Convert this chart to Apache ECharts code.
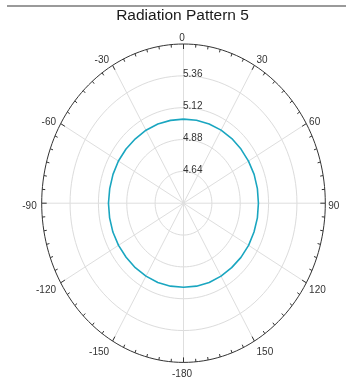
<!DOCTYPE html>
<html><head><meta charset="utf-8">
<script src="https://cdn.jsdelivr.net/npm/echarts@6/dist/echarts.min.js"></script>
<style>html,body{margin:0;padding:0;background:#fff}#c{width:346px;height:377px}</style>
</head><body><div id="c"></div>
<script>
const TITLE = 'Radiation Pattern 5';
const RADIUS_MIN = 4.4;
const RADIUS_MAX = 5.6;
const radiusTicks = [4.64, 4.88, 5.12, 5.36];
const radiusTickLabels = ['4.64', '4.88', '5.12', '5.36'];
const angleTicks = [0, 30, 60, 90, 120, 150, 180, 210, 240, 270, 300, 330];
const angleTickLabels = ['0', '30', '60', '90', '120', '150', '-180', '-150', '-120', '-90', '-60', '-30'];
const patternAngles = [0, 10, 20, 30, 40, 50, 60, 70, 80, 90, 100, 110, 120, 130, 140, 150, 160, 170,
  180, 190, 200, 210, 220, 230, 240, 250, 260, 270, 280, 290, 300, 310, 320, 330, 340, 350];
const patternValues = [5.034, 5.035, 5.035, 5.036, 5.036, 5.035, 5.035, 5.036, 5.035, 5.034, 5.035, 5.035,
  5.036, 5.035, 5.034, 5.035, 5.036, 5.035, 5.034, 5.035, 5.036, 5.035, 5.035, 5.034,
  5.035, 5.036, 5.035, 5.035, 5.034, 5.035, 5.036, 5.035, 5.034, 5.035, 5.035, 5.034];

const FONT = '"Liberation Sans", Arial, sans-serif';
const MINOR_STEP = 5;
const rad = d => d * Math.PI / 180;
function toXY(angleDeg, value) {
  const r = value - RADIUS_MIN;
  return [r * Math.sin(rad(angleDeg)), r * Math.cos(rad(angleDeg))];
}
const curve = patternAngles.map((a, i) => toXY(a, patternValues[i]));
curve.push(curve[0]);

function renderFrame(params, api) {
  const children = [];
  const c = api.coord([0, 0]);
  const P = (a, v) => api.coord(toXY(a, v));
  radiusTicks.forEach(v => {
    const pts = [];
    for (let a = 0; a <= 360; a += 3) pts.push(P(a, v));
    children.push({ type: 'polyline', shape: { points: pts }, style: { stroke: '#dcdcdc', lineWidth: 1, fill: null } });
  });
  angleTicks.forEach(a => {
    const o = P(a, RADIUS_MAX);
    children.push({ type: 'line', shape: { x1: c[0], y1: c[1], x2: o[0], y2: o[1] }, style: { stroke: '#dedede', lineWidth: 1 } });
  });
  const outer = [];
  for (let a = 0; a <= 360; a += 2) outer.push(P(a, RADIUS_MAX));
  children.push({ type: 'polyline', shape: { points: outer }, style: { stroke: '#333', lineWidth: 1, fill: null } });
  for (let a = 0; a < 360; a += MINOR_STEP) {
    const o = P(a, RADIUS_MAX);
    const dx = c[0] - o[0], dy = c[1] - o[1], L = Math.hypot(dx, dy);
    const len = a % 30 === 0 ? 5 : 3;
    children.push({ type: 'line', shape: { x1: o[0], y1: o[1], x2: o[0] + dx / L * len, y2: o[1] + dy / L * len }, style: { stroke: '#333', lineWidth: 1 } });
  }
  angleTicks.forEach((a, i) => {
    const o = P(a, RADIUS_MAX);
    const s = Math.sin(rad(a)), co = Math.cos(rad(a));
    let align = 'center', x = o[0];
    if (s > 0.01) { align = 'left'; x = o[0] + 3 * Math.sqrt(s); }
    else if (s < -0.01) { align = 'right'; x = o[0] - 5 * Math.sqrt(-s); }
    else { x = o[0] - 1.5; }
    const y = o[1] - 6 * co + 3 * (1 - co);
    children.push({ type: 'text', x: x, y: y, style: { text: angleTickLabels[i], fill: '#333', fontSize: 10, fontFamily: FONT, align: align, verticalAlign: 'middle' } });
  });
  radiusTicks.forEach((v, i) => {
    const p = P(0, v);
    children.push({ type: 'text', x: c[0] - 0.5, y: p[1] - 1.5, style: { text: radiusTickLabels[i], fill: '#333', fontSize: 10, fontFamily: FONT, align: 'left', verticalAlign: 'middle' } });
  });
  return { type: 'group', children: children };
}

const chart = echarts.init(document.getElementById('c'));
chart.setOption({
  animation: false,
  backgroundColor: '#fff',
  grid: { left: 41.7, top: 44, width: 283.6, height: 318.4, containLabel: false },
  xAxis: { type: 'value', min: -(RADIUS_MAX - RADIUS_MIN), max: RADIUS_MAX - RADIUS_MIN, show: false },
  yAxis: { type: 'value', min: -(RADIUS_MAX - RADIUS_MIN), max: RADIUS_MAX - RADIUS_MIN, show: false },
  graphic: [
    { type: 'line', shape: { x1: 7, y1: 6, x2: 346, y2: 6 }, style: { stroke: '#9a9a9a', lineWidth: 2 } },
    { type: 'text', x: 182.5, y: 16, style: { text: TITLE, fontSize: 15.5, fontFamily: FONT, fill: '#1a1a1a', align: 'center', verticalAlign: 'middle' } }
  ],
  series: [
    { type: 'custom', data: [[0, 0]], renderItem: renderFrame, silent: true, clip: false, z: 1 },
    { type: 'line', data: curve, showSymbol: false, smooth: false, silent: true, z: 3,
      lineStyle: { color: '#1aa6c0', width: 1.6 } }
  ]
});
</script></body></html>
